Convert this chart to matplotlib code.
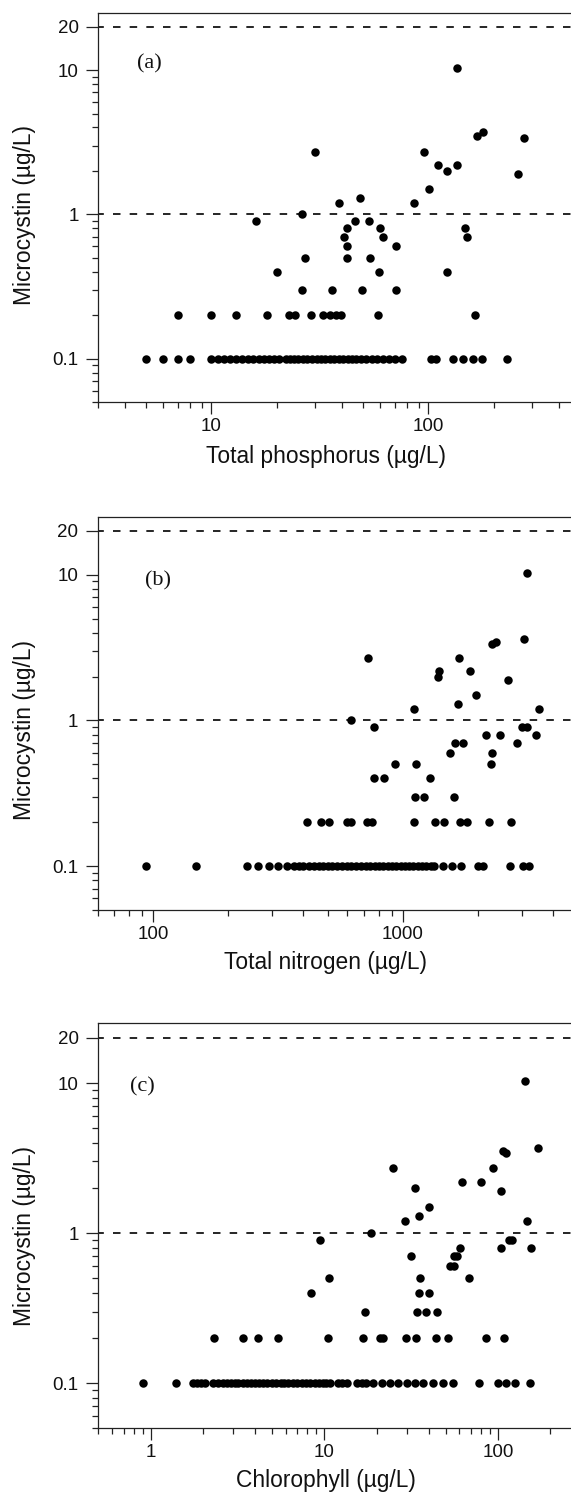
import numpy as np
import matplotlib
matplotlib.use("Agg")
import matplotlib.pyplot as plt
from matplotlib.ticker import LogLocator, FixedLocator, FixedFormatter, NullFormatter

plt.rcParams['font.family'] = ['Liberation Sans', 'DejaVu Sans']

# --- panel (a): total phosphorus (ug/L)
tp_at_01 = [5, 6, 7, 8, 10, 10.7, 11.4, 12.2, 13, 13.8, 14.7, 15.6, 16.5, 17.5, 18.5, 19.5, 20.5,
            22, 23, 24, 25, 26.3, 27.6, 29, 30.5, 32, 33.5, 35, 36.8, 38.6, 40.5, 42.5, 44.5,
            46.5, 49, 51.5, 55, 58, 62, 66, 70, 75.5, 103, 108, 130, 144, 160, 177, 231]
tp_at_02 = [7, 10, 13, 18, 22.7, 24.2, 28.6, 32.7, 35, 37.6, 39.6, 58.5, 163]
tp_hi = [16, 26, 30, 20, 26, 27, 36, 38.5, 41, 42, 42, 42, 46, 48.5, 49.5, 53, 54, 59, 60, 62,
         71, 71, 86, 95, 101, 111, 122, 122, 136, 136, 147, 151, 167, 178, 259, 276]
mc_tp_hi = [0.9, 1.0, 2.7, 0.4, 0.3, 0.5, 0.3, 1.2, 0.7, 0.8, 0.6, 0.5, 0.9, 1.3, 0.3, 0.9, 0.5,
            0.4, 0.8, 0.7, 0.6, 0.3, 1.2, 2.7, 1.5, 2.2, 2.0, 0.4, 10.4, 2.2, 0.8, 0.7, 3.5, 3.7,
            1.9, 3.4]

# --- panel (b): total nitrogen (ug/L)
tn_at_01 = [94, 148, 237, 263, 291, 315, 343, 366, 385, 400, 420, 440, 460, 480, 500, 520, 545,
            570, 595, 620, 650, 680, 710, 740, 770, 800, 835, 870, 905, 940, 980, 1020, 1060,
            1100, 1145, 1190, 1240, 1290, 1333, 1447, 1577, 1714, 1995, 2090, 2674, 3026, 3186]
tn_at_02 = [413, 472, 505, 595, 617, 716, 752, 1110, 1340, 1465, 1698, 1804, 2200, 2710]
tn_hi = [617, 728, 766, 766, 841, 927, 1107, 1127, 1120, 1217, 1288, 1377, 1390, 1549, 1603,
         1657, 1670, 1620, 1740, 1862, 1963, 2140, 2250, 2270, 2265, 2355, 2455, 2640, 2863,
         2980, 3130, 3050, 3130, 3400, 3490]
mc_tn_hi = [1.0, 2.7, 0.9, 0.4, 0.4, 0.5, 1.2, 0.5, 0.3, 0.3, 0.4, 2.0, 2.2, 0.6, 0.3, 1.3, 2.7,
            0.7, 0.7, 2.2, 1.5, 0.8, 0.5, 0.6, 3.35, 3.45, 0.8, 1.9, 0.7, 0.9, 0.9, 3.6, 10.3,
            0.8, 1.2]

# --- panel (c): chlorophyll (ug/L)
chl_at_01 = [0.91, 1.41, 1.76, 1.85, 1.95, 2.05, 2.3, 2.45, 2.6, 2.75, 2.9, 3.05, 3.2, 3.4, 3.6,
             3.8, 4.0, 4.2, 4.45, 4.7, 5.0, 5.3, 5.6, 5.9, 6.2, 6.6, 7.0, 7.4, 7.8, 8.3, 8.8,
             9.3, 9.8, 10.3, 10.8, 12.0, 12.7, 13.5, 15.4, 16.4, 17.5, 19.2, 21.4, 23.9, 26.7,
             29.8, 33.3, 37.2, 42.4, 48, 55.4, 77.7, 100.6, 112, 125, 153]
chl_at_02 = [2.33, 3.42, 4.14, 5.44, 10.5, 16.8, 20.9, 21.9, 29.5, 33.7, 43.8, 51.8, 85, 109]
chl_hi = [8.4, 9.4, 10.6, 17.2, 18.7, 24.8, 29.3, 31.4, 33.4, 35, 35.6, 35, 40, 34.3, 38.6, 44.7,
          40, 53, 56, 55.5, 58, 60.5, 62, 68, 80, 93.5, 104, 104, 106.5, 112, 116, 120, 144,
          147, 155, 171]
mc_chl_hi = [0.4, 0.9, 0.5, 0.3, 1.0, 2.7, 1.2, 0.7, 2.0, 1.3, 0.5, 0.4, 0.4, 0.3, 0.3, 0.3,
             1.5, 0.6, 0.6, 0.7, 0.7, 0.8, 2.2, 0.5, 2.2, 2.7, 0.8, 1.9, 3.55, 3.4, 0.9, 0.9,
             10.3, 1.2, 0.8, 3.7]

guide_levels = [20, 1]
y_ticks = [0.1, 1, 10, 20]
y_ticklabels = ['0.1', '1', '10', '20']

W, H = 571, 1493
fig = plt.figure(figsize=(W / 100, H / 100), dpi=100)

# axes boxes in pixels: left, top, width, bottom
panels = [
    dict(box=(98, 12.7, 547.5, 402), xlim=(3, 1000), xt=[10, 100], xtl=['10', '100'],
         low=tp_at_01, two=tp_at_02, hx=tp_hi, hy=mc_tp_hi, tag='(a)', tagxy=(149, 64),
         xlabel='Total phosphorus (\u00b5g/L)', xlab_y=456, ylab_y=215),
    dict(box=(97.5, 516.7, 500, 910), xlim=(60, 6000), xt=[100, 1000], xtl=['100', '1000'],
         low=tn_at_01, two=tn_at_02, hx=tn_hi, hy=mc_tn_hi, tag='(b)', tagxy=(158.5, 581),
         xlabel='Total nitrogen (\u00b5g/L)', xlab_y=963, ylab_y=730),
    dict(box=(98.3, 1023.3, 521, 1428.3), xlim=(0.5, 500), xt=[1, 10, 100], xtl=['1', '10', '100'],
         low=chl_at_01, two=chl_at_02, hx=chl_hi, hy=mc_chl_hi, tag='(c)', tagxy=(142, 1087),
         xlabel='Chlorophyll (\u00b5g/L)', xlab_y=1480, ylab_y=1236),
]

for p in panels:
    l, t, w, b = p['box']
    ax = fig.add_axes([l / W, 1 - b / H, w / W, (b - t) / H])
    x = list(p['low']) + list(p['two']) + list(p['hx'])
    y = [0.1] * len(p['low']) + [0.2] * len(p['two']) + list(p['hy'])
    ax.plot(x, y, 'o', color='black', ms=6.1, mew=0, zorder=3)
    for lev in guide_levels:
        ax.axhline(lev, color='black', lw=1.2, ls=(1, (4.5, 5.5)), zorder=2)

    ax.set_xscale('log')
    ax.set_yscale('log')
    ax.set_xlim(*p['xlim'])
    ax.set_ylim(0.05, 25)

    ax.xaxis.set_major_locator(FixedLocator(p['xt']))
    ax.xaxis.set_major_formatter(FixedFormatter(p['xtl']))
    ax.xaxis.set_minor_locator(LogLocator(base=10, subs=np.arange(2, 10)))
    ax.xaxis.set_minor_formatter(NullFormatter())
    ax.yaxis.set_major_locator(FixedLocator(y_ticks))
    ax.yaxis.set_major_formatter(FixedFormatter(y_ticklabels))
    ax.yaxis.set_minor_locator(LogLocator(base=10, subs=np.arange(2, 10)))
    ax.yaxis.set_minor_formatter(NullFormatter())

    ax.tick_params(which='both', direction='out', color='#222222', width=0.9,
                   labelsize=13.5, labelcolor='#111111')
    ax.tick_params(which='major', length=8.5)
    ax.tick_params(which='minor', length=4.3)
    ax.tick_params(axis='x', which='major', pad=3)
    ax.tick_params(axis='y', which='major', pad=5.5)
    for s in ax.spines.values():
        s.set_linewidth(0.9)
        s.set_color('#222222')

    tx, ty = p['tagxy']
    fig.text(tx / W, 1 - ty / H, p['tag'], family=['Liberation Serif', 'DejaVu Serif'],
             fontsize=16, ha='center', va='center', color='#111111')
    fig.text(326 / W, 1 - p['xlab_y'] / H, p['xlabel'], fontsize=16.4,
             ha='center', va='center', color='#111111')
    fig.text(25 / W, 1 - p['ylab_y'] / H, 'Microcystin (\u00b5g/L)', fontsize=16.4,
             rotation=90, ha='center', va='center', color='#111111')

fig.savefig('out.png', dpi=100, facecolor='white')
